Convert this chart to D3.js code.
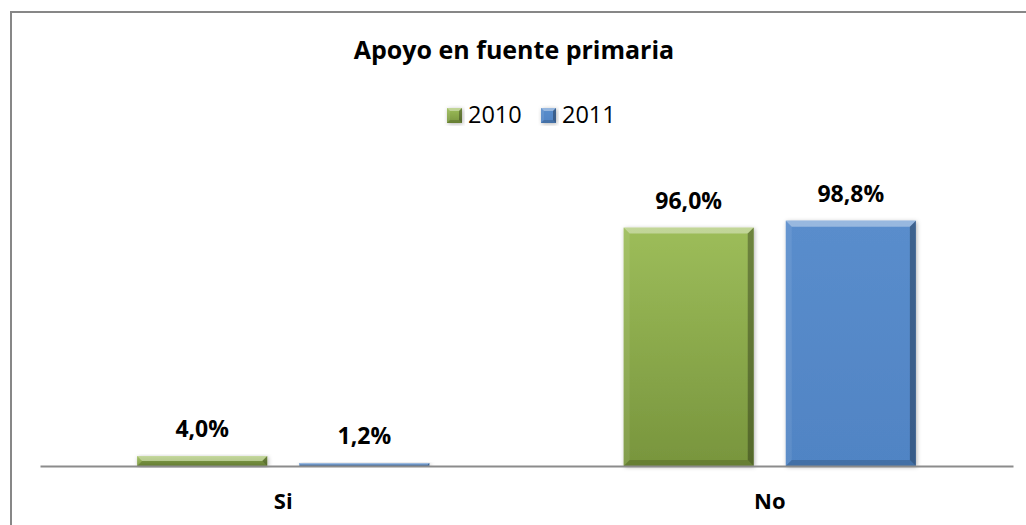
<!DOCTYPE html>
<html lang="es">
<head>
<meta charset="utf-8">
<title>Apoyo en fuente primaria</title>
<script src="https://cdnjs.cloudflare.com/ajax/libs/d3/7.8.5/d3.min.js"></script>
<style>
  body { margin: 0; background: #fff; }
  svg { display: block; font-family: "Open Sans", sans-serif; }
</style>
</head>
<body>
<div id="viz"></div>
<script>
const categories = ["Si", "No"];
const series = ["2010", "2011"];
const values2010 = [4.0, 96.0];
const values2011 = [1.2, 98.8];
const valueLabels2010 = ["4,0%", "96,0%"];
const valueLabels2011 = ["1,2%", "98,8%"];

const width = 1026;
const height = 525;
const axisY = 466;

const colors = {
  "2010": { top: "#9dbd5a", bottom: "#78953d" },
  "2011": { top: "#5a8dcc", bottom: "#5084c4" }
};

const rows = categories.map((c, i) => ({
  category: c,
  bars: [
    { series: "2010", value: values2010[i], label: valueLabels2010[i] },
    { series: "2011", value: values2011[i], label: valueLabels2011[i] }
  ]
}));

const svg = d3.select("#viz").append("svg")
  .attr("width", width)
  .attr("height", height);

const defs = svg.append("defs");
series.forEach(s => {
  const g = defs.append("linearGradient")
    .attr("id", "grad" + s)
    .attr("x1", 0).attr("y1", 0).attr("x2", 0).attr("y2", 1);
  g.append("stop").attr("offset", "0%").attr("stop-color", colors[s].top);
  g.append("stop").attr("offset", "100%").attr("stop-color", colors[s].bottom);
});
const shadow = defs.append("filter").attr("id", "shadow")
  .attr("x", "-20%").attr("y", "-20%").attr("width", "140%").attr("height", "140%");
shadow.append("feDropShadow")
  .attr("dx", 1).attr("dy", 1).attr("stdDeviation", 2)
  .attr("flood-color", "#000").attr("flood-opacity", 0.3);

// chart border (right and bottom edges fall outside the picture)
svg.append("rect")
  .attr("x", 11).attr("y", 12)
  .attr("width", 1100).attr("height", 600)
  .attr("fill", "none")
  .attr("stroke", "#878787")
  .attr("stroke-width", 2);

// scales
const x0 = d3.scaleBand()
  .domain(categories)
  .range([40, 1013]);

const x1 = d3.scaleBand()
  .domain(series)
  .range([0, x0.bandwidth()])
  .paddingInner(0.1975)
  .paddingOuter(0.599);

const y = d3.scaleLinear()
  .domain([0, 120])
  .range([axisY, 168]);

// bevelled bar
function bevelBar(sel, x, yTop, w, h, s, b) {
  sel.append("rect")
    .attr("x", x).attr("y", yTop)
    .attr("width", w).attr("height", h)
    .attr("fill", "url(#grad" + s + ")")
    .attr("filter", "url(#shadow)");
  const bb = Math.min(b, h / 2);
  const poly = (pts, fill, op) => sel.append("polygon")
    .attr("points", pts.map(p => p.join(",")).join(" "))
    .attr("fill", fill).attr("fill-opacity", op);
  poly([[x, yTop], [x + w, yTop], [x + w - bb, yTop + bb], [x + bb, yTop + bb]], "#fff", 0.38);
  poly([[x, yTop], [x + bb, yTop + bb], [x + bb, yTop + h - bb], [x, yTop + h]], "#fff", 0.08);
  poly([[x + w, yTop], [x + w, yTop + h], [x + w - bb, yTop + h - bb], [x + w - bb, yTop + bb]], "#000", 0.3);
  poly([[x, yTop + h], [x + w, yTop + h], [x + w - bb, yTop + h - bb], [x + bb, yTop + h - bb]], "#000", 0.15);
}

const groups = svg.append("g").attr("class", "bars")
  .selectAll("g")
  .data(rows)
  .enter()
  .append("g")
    .attr("transform", d => `translate(${x0(d.category)},0)`);

groups.each(function(d) {
  const g = d3.select(this);
  d.bars.forEach(bar => {
    const top = y(bar.value);
    bevelBar(g, x1(bar.series), top, x1.bandwidth(), axisY - top, bar.series, 6);
  });
});

// value labels
groups.selectAll("text")
  .data(d => d.bars)
  .enter()
  .append("text")
    .attr("x", d => x1(d.series) + x1.bandwidth() / 2)
    .attr("y", d => y(d.value) - 19)
    .attr("text-anchor", "middle")
    .attr("font-weight", 700)
    .attr("font-size", 23)
    .attr("fill", "#000")
    .text(d => d.label);

// category axis
const xAxis = svg.append("g")
  .attr("transform", `translate(0,${axisY})`)
  .call(d3.axisBottom(x0).tickSize(0).tickPadding(27));
xAxis.select(".domain")
  .attr("stroke", "#8c8c8c")
  .attr("stroke-width", 2);
xAxis.selectAll("text")
  .attr("font-family", "Open Sans")
  .attr("font-weight", 700)
  .attr("font-size", 22)
  .attr("fill", "#000");

// title
svg.append("text")
  .attr("x", 514)
  .attr("y", 59)
  .attr("text-anchor", "middle")
  .attr("font-weight", 700)
  .attr("font-size", 25)
  .text("Apoyo en fuente primaria");

// legend
const legend = svg.append("g").attr("class", "legend")
  .selectAll("g")
  .data(series)
  .enter()
  .append("g")
    .attr("transform", (d, i) => `translate(${447 + i * 94},108)`);

legend.each(function(s) {
  bevelBar(d3.select(this), 0, 0, 15, 15, s, 3);
});

legend.append("text")
  .attr("x", 21)
  .attr("y", 15)
  .attr("font-size", 23.5)
  .attr("fill", "#000")
  .text(d => d);
</script>
</body>
</html>
